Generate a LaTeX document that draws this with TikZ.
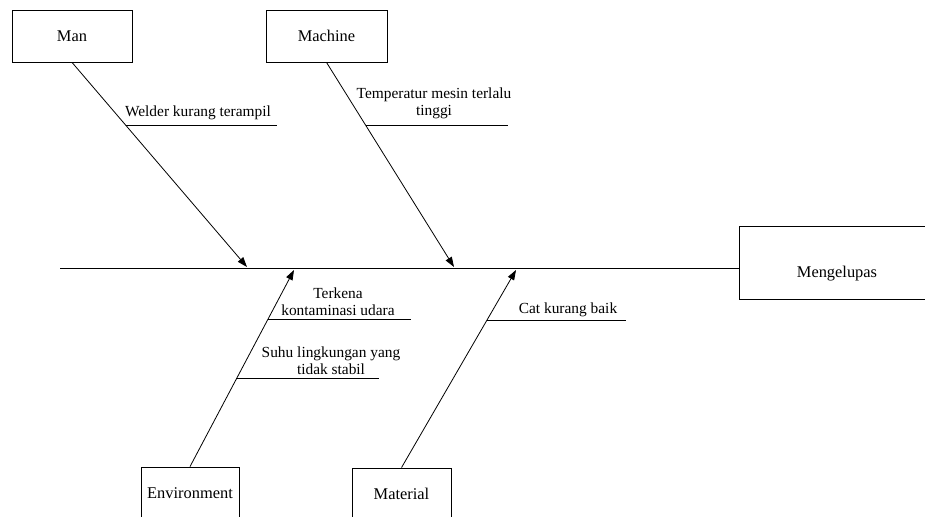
\documentclass[tikz,border=0pt]{standalone}
\usepackage{fontspec}
\setmainfont{Liberation Serif}
\usetikzlibrary{arrows.meta}

\tikzset{
  cause/.style={draw=black, line width=0.8pt, minimum width=120pt, minimum height=52pt, inner sep=0pt, font=\fontsize{16.4}{19}\selectfont},
  note/.style={anchor=base, align=center, inner sep=0pt, font=\fontsize{15.4}{17}\selectfont},
  bone/.style={line width=0.8pt, -{Triangle[length=10pt,width=7pt]}},
  tick/.style={line width=0.8pt}
}

\begin{document}
\begin{tikzpicture}[x=1pt, y=-1pt]
\useasboundingbox (0,0) rectangle (925,516);
\node[cause] (man) at (72,36){Man};
\node[cause, minimum width=121pt] (machine) at (326.5,36){Machine};
\node[cause, minimum width=98pt] (env) at (190,493){Environment};
\node[cause, minimum width=99pt] (mat) at (401.5,494){Material};
\node[cause, minimum width=196pt, minimum height=73pt] (effect) at (837,262.5){};
\node[font=\fontsize{16.4}{19}\selectfont, inner sep=0pt, anchor=base] (effecttext) at (837,277){Mengelupas};
\coordinate (spinestart) at (60,268);
\coordinate (tipman) at (247,267);
\coordinate (tipmachine) at (454,267);
\coordinate (tipenv) at (294,270);
\coordinate (tipmat) at (516,270);
\coordinate (welderA) at (125.5,125);
\coordinate (welderB) at (277,125);
\coordinate (tempA) at (366,125);
\coordinate (tempB) at (508,125);
\coordinate (terkenaA) at (268,319);
\coordinate (terkenaB) at (411,319);
\coordinate (suhuA) at (236,378);
\coordinate (suhuB) at (379,378);
\coordinate (catA) at (487,320);
\coordinate (catB) at (626,320);
\node[note] (welder) at (198,117){Welder kurang terampil};
\node[note] (temp) at (434,115){Temperatur mesin terlalu\\tinggi};
\node[note] (terkena) at (338,315){Terkena\\kontaminasi udara};
\node[note] (suhu) at (331,374){Suhu lingkungan yang\\tidak stabil};
\node[note] (cat) at (568,313){Cat kurang baik};
\draw [tick] (spinestart)--(spinestart -| effect.west);
\draw [bone] (man.south)--(tipman);
\draw [bone] (machine.south)--(tipmachine);
\draw [bone] (env.north)--(tipenv);
\draw [bone] (mat.north)--(tipmat);
\draw [tick] (welderA)--(welderB);
\draw [tick] (tempA)--(tempB);
\draw [tick] (terkenaA)--(terkenaB);
\draw [tick] (suhuA)--(suhuB);
\draw [tick] (catA)--(catB);
\end{tikzpicture}
\end{document}
